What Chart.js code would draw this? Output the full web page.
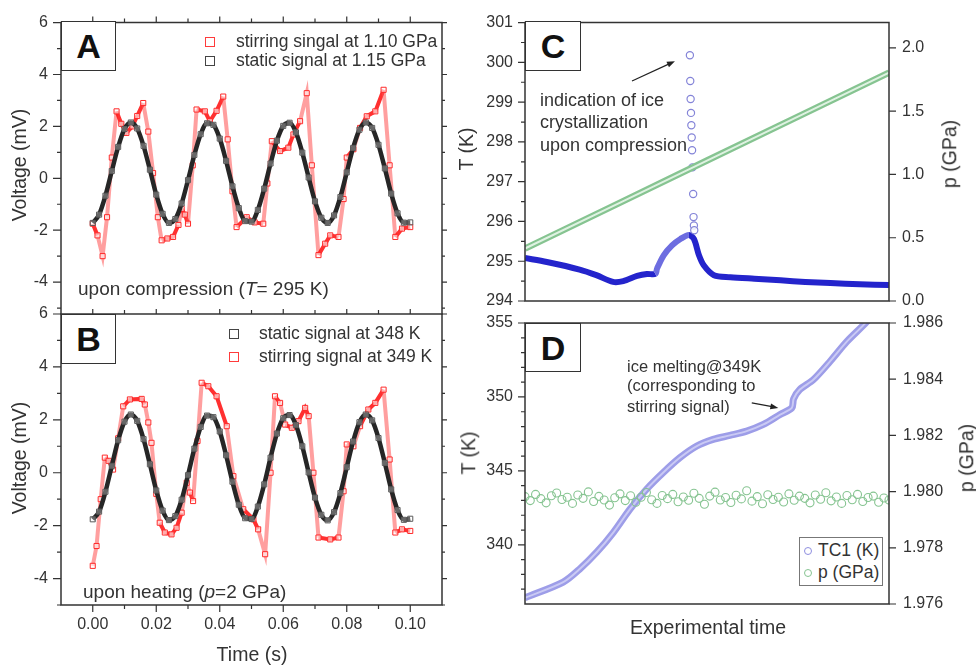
<!DOCTYPE html>
<html><head><meta charset="utf-8">
<script src="https://cdn.jsdelivr.net/npm/chart.js@4.4.1/dist/chart.umd.min.js"></script>
<style>
html,body{margin:0;padding:0;background:#fff;}
body{width:976px;height:665px;overflow:hidden;position:relative;font-family:"Liberation Sans",Arial,sans-serif;}
canvas.layer{position:absolute;left:0;top:0;}
.txt{position:absolute;white-space:nowrap;line-height:1;color:#333;}
.vt{transform:translate(-50%,-50%) rotate(-90deg);}
.ct{transform:translate(-50%,-50%);}
.box{position:absolute;box-sizing:border-box;border:1.3px solid #333;background:#fff;font-weight:bold;font-size:34px;color:#111;display:flex;align-items:center;justify-content:center;line-height:1;}
.sq{position:absolute;width:10px;height:10px;box-sizing:border-box;border:1.4px solid;}
.ci{position:absolute;width:8px;height:8px;box-sizing:border-box;border:1.3px solid;border-radius:50%;}
</style></head>
<body>
<canvas id="cA" class="layer" width="976" height="665"></canvas>
<canvas id="cB" class="layer" width="976" height="665"></canvas>
<canvas id="cC" class="layer" width="976" height="665"></canvas>
<canvas id="cD" class="layer" width="976" height="665"></canvas>

<div class="box" style="left:61px;top:21px;width:55px;height:50px;">A</div>
<div class="box" style="left:61px;top:314px;width:55px;height:50px;">B</div>
<div class="box" style="left:525px;top:21px;width:56px;height:50px;">C</div>
<div class="box" style="left:525px;top:323px;width:56px;height:49px;">D</div>

<div class="sq" style="left:205px;top:37px;border-color:#ff3b3b;"></div>
<div class="txt" style="left:236px;top:33px;font-size:17.5px;">stirring singal at 1.10 GPa</div>
<div class="sq" style="left:205px;top:56px;border-color:#444;"></div>
<div class="txt" style="left:236px;top:52px;font-size:17.5px;">static signal at 1.15 GPa</div>
<div class="txt" style="left:78px;top:279px;font-size:19px;">upon compression (<i>T</i>= 295 K)</div>

<div class="sq" style="left:229px;top:329px;border-color:#444;"></div>
<div class="txt" style="left:259px;top:325px;font-size:17.5px;">static signal at 348 K</div>
<div class="sq" style="left:229px;top:352px;border-color:#ff3b3b;"></div>
<div class="txt" style="left:259px;top:348px;font-size:17.5px;">stirring signal at 349 K</div>
<div class="txt" style="left:83px;top:582px;font-size:19px;">upon heating (<i>p</i>=2 GPa)</div>

<div class="txt" style="left:540px;top:91px;font-size:18px;">indication of ice</div>
<div class="txt" style="left:540px;top:113px;font-size:18px;">crystallization</div>
<div class="txt" style="left:540px;top:136px;font-size:18px;">upon compression</div>

<div class="txt" style="left:627px;top:358px;font-size:16.5px;">ice melting@349K</div>
<div class="txt" style="left:627px;top:377px;font-size:16.5px;">(corresponding to</div>
<div class="txt" style="left:627px;top:398px;font-size:16.5px;">stirring signal)</div>

<div style="position:absolute;left:799px;top:537px;width:84px;height:49px;box-sizing:border-box;border:1px solid #777;background:#fff;"></div>
<div class="ci" style="left:804px;top:547px;border-color:#8f8fe0;"></div>
<div class="txt" style="left:818px;top:542px;font-size:17.5px;">TC1 (K)</div>
<div class="ci" style="left:804px;top:569px;border-color:#86c491;"></div>
<div class="txt" style="left:818px;top:564px;font-size:17.5px;">p (GPa)</div>

<div class="txt vt" style="left:20px;top:165px;font-size:19.5px;">Voltage (mV)</div>
<div class="txt vt" style="left:20px;top:458px;font-size:19.5px;">Voltage (mV)</div>
<div class="txt vt" style="left:467px;top:149px;font-size:19.5px;">T (K)</div>
<div class="txt vt" style="left:469px;top:453px;font-size:19.5px;">T (K)</div>
<div class="txt vt" style="left:950px;top:154px;font-size:19.5px;">p (GPa)</div>
<div class="txt vt" style="left:967px;top:458px;font-size:19.5px;">p (GPa)</div>
<div class="txt ct" style="left:708px;top:628px;font-size:19.5px;">Experimental time</div>
<div class="txt ct" style="left:252px;top:655px;font-size:19.5px;">Time (s)</div>

<script>
// ---------- DATA ----------
const staticTime = [0,0.002,0.004,0.006,0.008,0.010,0.012,0.014,0.016,0.018,0.020,0.022,0.024,0.026,0.028,0.030,0.032,0.034,0.036,0.038,0.040,0.042,0.044,0.046,0.048,0.050,0.052,0.054,0.056,0.058,0.060,0.062,0.064,0.066,0.068,0.070,0.072,0.074,0.076,0.078,0.080,0.082,0.084,0.086,0.088,0.090,0.092,0.094,0.096,0.098,0.100];
const staticA = [-1.72,-1.40,-0.67,0.28,1.21,1.90,2.15,1.92,1.25,0.33,-0.63,-1.37,-1.72,-1.57,-0.97,-0.07,0.90,1.70,2.12,2.06,1.53,0.67,-0.31,-1.15,-1.65,-1.67,-1.22,-0.40,0.57,1.45,2.02,2.14,1.77,0.99,0.03,-0.89,-1.52,-1.72,-1.43,-0.72,0.23,1.17,1.87,2.15,1.94,1.29,0.38,-0.59,-1.35,-1.71,-1.70];
const staticB = [-1.76,-1.47,-0.72,0.26,1.23,1.93,2.20,1.96,1.27,0.32,-0.67,-1.43,-1.79,-1.64,-1.02,-0.09,0.91,1.73,2.16,2.10,1.56,0.66,-0.34,-1.21,-1.72,-1.75,-1.28,-0.44,0.57,1.48,2.06,2.18,1.80,1.00,0.01,-0.94,-1.59,-1.80,-1.49,-0.77,0.21,1.18,1.91,2.20,1.98,1.31,0.37,-0.63,-1.41,-1.78,-1.74];

const stirTimeA = [0,0.0015,0.0031,0.0045,0.006,0.0075,0.009,0.0106,0.0125,0.014,0.0159,0.0175,0.019,0.0205,0.0217,0.0235,0.0253,0.027,0.028,0.029,0.030,0.0315,0.0327,0.0353,0.0369,0.039,0.0411,0.0425,0.044,0.0453,0.0485,0.051,0.0537,0.055,0.0564,0.059,0.0616,0.0632,0.0653,0.0674,0.069,0.0711,0.0732,0.0748,0.0774,0.079,0.080,0.0821,0.0842,0.0863,0.089,0.0916,0.0935,0.0953,0.0974,0.100];
const stirA = [-1.75,-2.2,-3.0,-1.5,0.8,2.58,2.1,1.75,2.0,2.4,2.9,1.8,0.2,-1.5,-2.39,-2.32,-2.26,-1.8,-1.18,-1.4,-1.75,0.5,2.65,2.58,2.2,2.6,3.15,1.5,-0.5,-1.88,-1.5,-1.7,-1.75,-0.2,1.43,1.05,1.18,1.69,2.2,3.28,0.5,-2.96,-2.52,-2.2,-2.26,-0.8,0.8,1.12,1.94,2.39,2.58,3.41,0.5,-2.26,-1.94,-1.88];

const stirTimeB = [0,0.0012,0.0025,0.0038,0.005,0.0064,0.008,0.0096,0.0117,0.0154,0.0164,0.0175,0.0185,0.020,0.0211,0.0227,0.0248,0.0264,0.028,0.0296,0.0306,0.0316,0.033,0.0343,0.0364,0.039,0.0422,0.0443,0.0474,0.0506,0.0521,0.0543,0.056,0.0574,0.059,0.0606,0.0627,0.0648,0.0669,0.068,0.0695,0.0711,0.0748,0.0774,0.079,0.080,0.0821,0.0842,0.0868,0.089,0.0916,0.0935,0.0953,0.0974,0.100];
const stirB = [-3.52,-2.77,-1.0,0.57,0.45,0.12,1.3,2.51,2.77,2.79,2.58,1.9,1.13,-0.8,-1.89,-2.26,-2.33,-2.08,-1.51,-0.38,-0.75,-1.07,1.2,3.40,3.27,2.89,1.76,-0.13,-1.38,-1.76,-2.14,-3.08,0.0,2.89,2.64,1.82,1.70,1.95,2.45,2.14,0.0,-2.45,-2.52,-2.45,-0.7,1.07,1.0,1.76,2.39,2.64,3.14,0.5,-2.26,-2.14,-2.2];

const timeTicks = [0,0.02,0.04,0.06,0.08,0.10];
const timeMinor = [0.01,0.03,0.05,0.07,0.09];
const voltTicks = [-4,-2,0,2,4,6];
const voltMinor = [-5,-3,-1,1,3,5];

const cTime = [0,6,15,19.6,24.2,27,30.8,33.5,35.8,36.3,38.1,40.4,42.7,45,46.4,47.8,49.1,51.9,56.4,63,70.2,77,83.9,92,100];
const cTemp = [295.08,294.98,294.79,294.65,294.48,294.5,294.63,294.68,294.68,294.82,295.15,295.4,295.56,295.66,295.56,295.15,294.9,294.65,294.6,294.56,294.52,294.48,294.45,294.42,294.4];
const cSpikeTime = [45.3,45.4,45.5,45.6,45.7,45.8,45.9,46.0,46.2,46.3,46.4,46.5];
const cSpikeTemp = [300.18,299.53,299.08,298.73,298.42,298.11,297.79,297.36,296.69,296.11,295.9,295.78];
const cPressTime = [0,25,50,75,100];
const cPress = [0.415,0.762,1.11,1.457,1.805];
const cTempTicks = [294,295,296,297,298,299,300,301];
const cTempMinor = [294.5,295.5,296.5,297.5,298.5,299.5,300.5];
const cPressTicks = [0,0.5,1.0,1.5,2.0];

const dTime = [0,10.5,15.1,19.7,24.3,28.8,33.4,38,42.6,47.2,51.7,56.3,60.9,65.5,70.1,73.3,73.8,75.5,79.2,83.8,88.4,93.9,100];
const dTemp = [336.42,337.48,338.38,339.5,340.85,342.4,343.76,344.89,345.9,346.68,347.13,347.4,347.69,348.14,348.81,349.26,349.87,350.5,351.16,352.4,353.74,355.09,356.9];
const dPressTime = [0,1.45,2.9,4.35,5.8,7.25,8.7,10.15,11.6,13.05,14.5,15.95,17.4,18.85,20.3,21.75,23.2,24.65,26.1,27.55,29,30.45,31.9,33.35,34.8,36.25,37.7,39.15,40.6,42.05,43.5,44.95,46.4,47.85,49.3,50.75,52.2,53.65,55.1,56.55,58,59.45,60.9,62.35,63.8,65.25,66.7,68.15,69.6,71.05,72.5,73.95,75.4,76.85,78.3,79.75,81.2,82.65,84.1,85.55,87,88.45,89.9,91.35,92.8,94.25,95.7,97.15,98.6,100];
const dPress = [1.97982,1.97968,1.97990,1.97975,1.97960,1.97985,1.97995,1.97972,1.97980,1.97958,
1.97988,1.97976,1.97999,1.97965,1.97983,1.97970,1.97952,1.97978,1.97992,1.97968,
1.97985,1.97962,1.97980,1.97997,1.97971,1.97958,1.97986,1.97975,1.97990,1.97964,
1.97981,1.97969,1.97994,1.97976,1.97955,1.97984,1.97998,1.97970,1.97979,1.97961,
1.97987,1.97974,1.98003,1.97966,1.97982,1.97957,1.97989,1.97972,1.97980,1.97963,
1.97992,1.97969,1.97984,1.97976,1.97960,1.97988,1.97973,1.97996,1.97967,1.97981,
1.97958,1.97986,1.97971,1.97990,1.97965,1.97979,1.97984,1.97962,1.97977,1.97970];
const dTempTicks = [340,345,350,355];
const dTempMinor = [337,338,339,341,342,343,344,346,347,348,349,351,352,353,354];
const dPressTicks = [1.976,1.978,1.980,1.982,1.984,1.986];

// ---------- HELPERS ----------
Chart.defaults.font.family = '"Liberation Sans", Arial, sans-serif';
Chart.defaults.color = '#333';
const xy = (xs, ys) => xs.map((x, i) => ({x: x, y: ys[i]}));
const tickFont = {family: '"Liberation Sans", Arial, sans-serif', size: 16};

function hScale(min, max, showLabels, h, ticks, fmt) {
  return {
    type: 'linear', position: 'bottom', min: min, max: max, display: showLabels,
    afterFit: s => { s.height = h; },
    afterBuildTicks: s => { if (ticks) s.ticks = ticks.map(v => ({value: v})); },
    grid: {display: false, drawTicks: false}, border: {display: false},
    ticks: {padding: 10, color: '#333', font: tickFont, autoSkip: false, maxRotation: 0, callback: fmt}
  };
}
function vScale(min, max, pos, w, ticks, fmt, pad) {
  return {
    type: 'linear', position: pos, min: min, max: max, display: true,
    afterFit: s => { s.width = w; },
    afterBuildTicks: s => { s.ticks = ticks.map(v => ({value: v})); },
    grid: {display: false, drawTicks: false}, border: {display: false},
    ticks: {padding: pad, color: '#333', font: tickFont, autoSkip: false, callback: fmt}
  };
}

const framePlugin = {
  id: 'frame',
  afterDraw(chart, args, opts) {
    const ctx = chart.ctx, a = chart.chartArea;
    ctx.save();
    ctx.strokeStyle = '#333'; ctx.lineWidth = 1.5; ctx.lineCap = 'square';
    ctx.beginPath();
    const s = opts.sides || 'ltrb';
    if (s.includes('l')) { ctx.moveTo(a.left, a.top); ctx.lineTo(a.left, a.bottom); }
    if (s.includes('r')) { ctx.moveTo(a.right, a.top); ctx.lineTo(a.right, a.bottom); }
    if (s.includes('t')) { ctx.moveTo(a.left, a.top); ctx.lineTo(a.right, a.top); }
    if (s.includes('b')) { ctx.moveTo(a.left, a.bottom); ctx.lineTo(a.right, a.bottom); }
    ctx.stroke();
    ctx.lineWidth = 1.2; ctx.lineCap = 'butt';
    ctx.beginPath();
    (opts.ticks || []).forEach(t => {
      const sc = chart.scales[t.scale];
      t.values.forEach(v => {
        const p = sc.getPixelForValue(v);
        if (t.side === 'left') { ctx.moveTo(a.left - t.len, p); ctx.lineTo(a.left, p); }
        else if (t.side === 'right') { ctx.moveTo(a.right, p); ctx.lineTo(a.right + t.len, p); }
        else if (t.side === 'top') { ctx.moveTo(p, a.top - t.len); ctx.lineTo(p, a.top); }
        else { ctx.moveTo(p, a.bottom); ctx.lineTo(p, a.bottom + t.len); }
      });
    });
    ctx.stroke();
    ctx.restore();
  }
};
const arrowPlugin = {
  id: 'arrows',
  afterDatasetsDraw(chart, args, opts) {
    const list = opts.list || [];
    const ctx = chart.ctx, xs = chart.scales.x, ys = chart.scales.y;
    ctx.save(); ctx.strokeStyle = '#222'; ctx.fillStyle = '#222'; ctx.lineWidth = 1.2;
    list.forEach(r => {
      const x1 = xs.getPixelForValue(r[0]), y1 = ys.getPixelForValue(r[1]);
      const x2 = xs.getPixelForValue(r[2]), y2 = ys.getPixelForValue(r[3]);
      const an = Math.atan2(y2 - y1, x2 - x1), L = 8, W = 3;
      ctx.beginPath(); ctx.moveTo(x1, y1);
      ctx.lineTo(x2 - L * 0.8 * Math.cos(an), y2 - L * 0.8 * Math.sin(an)); ctx.stroke();
      ctx.beginPath(); ctx.moveTo(x2, y2);
      ctx.lineTo(x2 - L * Math.cos(an) + W * Math.sin(an), y2 - L * Math.sin(an) - W * Math.cos(an));
      ctx.lineTo(x2 - L * Math.cos(an) - W * Math.sin(an), y2 - L * Math.sin(an) + W * Math.cos(an));
      ctx.closePath(); ctx.fill();
    });
    ctx.restore();
  }
};

function make(id, padding, scales, datasets, frame, arrows) {
  return new Chart(document.getElementById(id), {
    type: 'line',
    data: {datasets: datasets},
    options: {
      responsive: false, maintainAspectRatio: false, animation: false,
      layout: {padding: padding},
      scales: scales,
      plugins: {legend: {display: false}, tooltip: {enabled: false}, frame: frame, arrows: {list: arrows || []}}
    },
    plugins: [framePlugin, arrowPlugin]
  });
}

const steep = c => Math.abs(c.p1.y - c.p0.y) > 3 * Math.abs(c.p1.x - c.p0.x) ? 'rgba(255,80,80,0.55)' : undefined;
function staticSet(d) {
  return {data: d, borderColor: '#262626', borderWidth: 4.5, cubicInterpolationMode: 'monotone',
    pointStyle: 'rect', pointRadius: 3.6, pointBorderColor: '#5a5a5a', pointBackgroundColor: 'rgba(255,255,255,0.3)', pointBorderWidth: 1};
}
function stirSet(d) {
  return {data: d, borderColor: 'rgba(255,25,25,0.9)', borderWidth: 4, tension: 0,
    pointStyle: 'rect', pointRadius: 3.6, pointBorderColor: '#ff2a2a', pointBackgroundColor: 'rgba(255,255,255,0.6)', pointBorderWidth: 1,
    segment: {borderColor: steep}};
}
const fmtTime = v => v.toFixed(2);
const fmtInt = v => String(v);

// ---------- PANEL A ----------
make('cA', {left: 0, top: 21, right: 534, bottom: 351},
  {x: hScale(-0.01, 0.11, false, 0), y: vScale(-5.23, 6, 'left', 61, voltTicks, fmtInt, 13)},
  [staticSet(xy(staticTime, staticA)), stirSet(xy(stirTimeA, stirA))],
  {sides: 'ltr', ticks: [
    {scale: 'y', side: 'left', values: voltTicks, len: 8}, {scale: 'y', side: 'left', values: voltMinor, len: 4},
    {scale: 'y', side: 'right', values: voltTicks, len: 5}, {scale: 'y', side: 'right', values: voltMinor, len: 3},
    {scale: 'x', side: 'top', values: timeTicks, len: 6}, {scale: 'x', side: 'top', values: timeMinor, len: 4}]});

// ---------- PANEL B ----------
make('cB', {left: 0, top: 314, right: 534, bottom: 0},
  {x: hScale(-0.01, 0.11, true, 60, timeTicks, fmtTime), y: vScale(-5, 6, 'left', 61, voltTicks, fmtInt, 13)},
  [staticSet(xy(staticTime, staticB)), stirSet(xy(stirTimeB, stirB))],
  {sides: 'ltrb', ticks: [
    {scale: 'y', side: 'left', values: voltTicks, len: 8}, {scale: 'y', side: 'left', values: voltMinor, len: 4},
    {scale: 'y', side: 'right', values: voltTicks, len: 5}, {scale: 'y', side: 'right', values: voltMinor, len: 3},
    {scale: 'x', side: 'top', values: timeTicks, len: 5}, {scale: 'x', side: 'top', values: timeMinor, len: 4},
    {scale: 'x', side: 'bottom', values: timeTicks, len: 7}, {scale: 'x', side: 'bottom', values: timeMinor, len: 4}]});

// ---------- PANEL C ----------
make('cC', {left: 480, top: 21, right: 0, bottom: 364},
  {x: hScale(0, 100, false, 0), y: vScale(294, 301, 'left', 45, cTempTicks, fmtInt, 12),
   y2: vScale(0, 2.2, 'right', 87, cPressTicks, v => v.toFixed(1), 13)},
  [
    {data: xy(cPressTime, cPress), yAxisID: 'y2', borderColor: '#dff2e2', borderWidth: 2, pointRadius: 0},
    {data: xy(cPressTime, cPress), yAxisID: 'y2', borderColor: '#86c491', borderWidth: 6.5, pointRadius: 0},
    {data: xy(cSpikeTime, cSpikeTemp), yAxisID: 'y', showLine: false, pointStyle: 'circle', pointRadius: 3.6,
      pointBorderColor: '#8484d8', pointBackgroundColor: 'rgba(255,255,255,0.8)', pointBorderWidth: 1.2},
    {data: xy(cTime, cTemp), yAxisID: 'y', borderColor: '#2424cc', borderWidth: 6, tension: 0.3, pointRadius: 0,
      segment: {borderColor: c => (c.p0.parsed.x >= 35.8 && c.p1.parsed.x <= 45.1) ? '#6d6de0' : undefined}}
  ],
  {sides: 'ltrb', ticks: [
    {scale: 'y', side: 'left', values: cTempTicks, len: 7}, {scale: 'y', side: 'left', values: cTempMinor, len: 4},
    {scale: 'y2', side: 'right', values: cPressTicks, len: 7}]},
  [[29.4, 299.53, 41.2, 300.03]]);

// ---------- PANEL D ----------
make('cD', {left: 480, top: 323, right: 0, bottom: 61},
  {x: hScale(0, 100, false, 0), y: vScale(336, 355, 'left', 45, dTempTicks, fmtInt, 12),
   y2: vScale(1.976, 1.986, 'right', 87, dPressTicks, v => v.toFixed(3), 14)},
  [
    {data: xy(dPressTime, dPress), yAxisID: 'y2', showLine: false, pointStyle: 'circle', pointRadius: 4,
      pointBorderColor: '#86c491', pointBackgroundColor: 'rgba(255,255,255,0)', pointBorderWidth: 1.1},
    {data: xy(dTime, dTemp), yAxisID: 'y', borderColor: '#cacaf4', borderWidth: 2, tension: 0.3, pointRadius: 0},
    {data: xy(dTime, dTemp), yAxisID: 'y', borderColor: '#9d9de8', borderWidth: 7, tension: 0.3, pointRadius: 0}
  ],
  {sides: 'ltrb', ticks: [
    {scale: 'y', side: 'left', values: dTempTicks, len: 7}, {scale: 'y', side: 'left', values: dTempMinor, len: 4},
    {scale: 'y2', side: 'right', values: dPressTicks, len: 7}]},
  [[62.3, 349.6, 69.6, 349.26]]);
</script>
</body></html>
